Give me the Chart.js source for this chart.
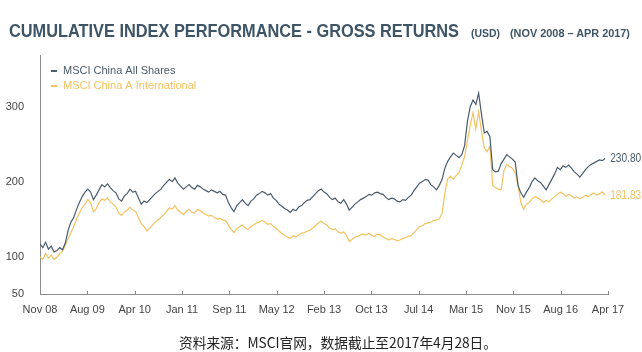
<!DOCTYPE html>
<html>
<head>
<meta charset="utf-8">
<script src="https://cdn.jsdelivr.net/npm/chart.js@4.4.1/dist/chart.umd.min.js"></script>
<style>
  html, body { margin: 0; padding: 0; background: #fff; }
  #wrap { position: relative; width: 642px; height: 352px; overflow: hidden; }
  #chart { position: absolute; left: 0; top: 0; }
  .fit { position: absolute; white-space: nowrap; transform-origin: 0 0; line-height: 1; }
  #title { left: 9px; top: 20px; font: bold 19px "Liberation Sans Narrow", "Liberation Sans", sans-serif; color: #3d5567; }
  #usd { left: 471px; top: 27px; font: bold 11px "Liberation Sans Narrow", "Liberation Sans", sans-serif; color: #3d5567; }
  #period { left: 510px; top: 27px; font: bold 11px "Liberation Sans Narrow", "Liberation Sans", sans-serif; color: #3d5567; }
  #source { left: 179px; top: 332px; font: 14px "Noto Sans CJK SC", sans-serif; color: #222; }
</style>
</head>
<body>
<div id="wrap">
  <canvas id="chart" width="642" height="352"></canvas>
  <div class="fit" id="title" data-w="450">CUMULATIVE INDEX PERFORMANCE - GROSS RETURNS</div>
  <div class="fit" id="usd" data-w="29">(USD)</div>
  <div class="fit" id="period" data-w="120">(NOV 2008 – APR 2017)</div>
  <div class="fit" id="source" data-w="318">资料来源：MSCI官网，数据截止至2017年4月28日。</div>
</div>
<script>
// ---- data (one reading every half month from Nov 08) ----
const tickLabels = ['Nov 08', 'Aug 09', 'Apr 10', 'Jan 11', 'Sep 11', 'May 12', 'Feb 13',
                    'Oct 13', 'Jul 14', 'Mar 15', 'Nov 15', 'Aug 16', 'Apr 17'];
const yTicks      = [50, 100, 200, 300];
const totalMonths = 101;   // Nov 08 -> Apr 17
const stepMonths  = 0.5;

const allShares = [
  117, 112, 119, 110, 114, 106, 108, 112, 109, 118,
  135, 146, 152, 163, 172, 180, 186, 190, 186, 176,
  182, 189, 196, 193, 197, 192, 188, 185, 177, 174,
  181, 184, 190, 186, 187, 178, 170, 174, 172, 176,
  180, 184, 187, 190, 195, 199, 203, 200, 205, 198,
  194, 190, 193, 196, 192, 190, 195, 193, 190, 188,
  186, 189, 187, 185, 187, 183, 182, 172, 165, 160,
  168, 172, 176, 171, 168, 174, 177, 182, 184, 187,
  185, 182, 184, 178, 175, 170, 167, 164, 162, 159,
  163, 161, 166, 168, 172, 175, 176, 180, 184, 188,
  190, 186, 184, 179, 176, 178, 173, 171, 176, 170,
  162, 166, 170, 173, 176, 178, 180, 183, 182, 185,
  186, 184, 183, 179, 176, 178, 177, 174, 173, 176,
  175, 179, 182, 188, 193, 198, 200, 203, 202, 196,
  193, 189, 195, 203, 218, 227, 233, 238, 235, 232,
  236, 248, 280, 300, 309, 303, 318, 290, 265, 267,
  260, 216, 213, 214, 224, 230, 236, 233, 230, 226,
  195, 185, 179, 186, 192, 200, 205, 201, 199, 194,
  189, 196, 203, 210, 219, 216, 221, 219, 222, 218,
  213, 210, 206, 211, 216, 220, 223, 225, 227, 229,
  228, 230.80
];

const chinaA = [
  100, 96, 104, 98, 102, 96, 99, 104, 107, 115,
  124, 132, 140, 150, 158, 165, 170, 176, 172, 160,
  164, 172, 177, 175, 178, 173, 170, 166, 158, 155,
  159, 162, 166, 162, 160, 152, 144, 140, 134, 138,
  142, 146, 149, 152, 156, 160, 165, 163, 168, 162,
  159, 156, 160, 163, 159, 158, 163, 161, 158, 156,
  154, 155, 152, 150, 151, 149, 148, 142, 136, 132,
  137, 140, 142, 138, 136, 140, 142, 145, 146, 148,
  146, 143, 144, 140, 138, 134, 131, 128, 126, 124,
  128, 126, 129, 131, 132, 134, 135, 138, 141, 145,
  147, 144, 142, 138, 136, 137, 133, 131, 133, 128,
  120, 123, 126, 127, 129, 130, 129, 131, 128, 127,
  130, 129, 126, 124, 122, 124, 123, 121, 122, 124,
  125, 127, 128, 132, 136, 140, 141, 144, 145, 146,
  148, 149, 150, 158, 185, 204, 207, 203, 208, 212,
  222, 233, 255, 275, 292, 270, 293, 268, 245, 240,
  247, 195, 192, 190, 189, 215, 223, 220, 218, 212,
  195, 172, 163, 170, 172, 177, 180, 178, 176, 172,
  175, 173, 177, 180, 183, 186, 184, 180, 183, 181,
  178, 180, 177, 179, 182, 180, 183, 185, 182, 184,
  186, 181.83
];

const seriesNames = ['MSCI China All Shares', 'MSCI China A International'];
const endLabels   = ['230.80', '181.83'];

const BLUE   = '#4b5c6c';
const ORANGE = '#f5c262';
const AXIS   = '#8c8c8c';
const FONT   = '"Liberation Sans", Arial, sans-serif';

const toPoints = arr => arr.map((v, i) => ({ x: i * stepMonths, y: v }));

// legend, end values and the small inward ticks on the x axis
const overlay = {
  id: 'overlay',
  afterDraw(chart) {
    const { ctx, chartArea, scales } = chart;
    ctx.save();

    ctx.strokeStyle = AXIS;
    ctx.lineWidth = 1;
    scales.x.ticks.forEach(t => {
      const px = Math.round(scales.x.getPixelForValue(t.value)) + 0.5;
      ctx.beginPath();
      ctx.moveTo(px, chartArea.bottom);
      ctx.lineTo(px, chartArea.bottom - 3);
      ctx.stroke();
    });

    ctx.font = '11px ' + FONT;
    ctx.textBaseline = 'middle';
    [BLUE, ORANGE].forEach((c, i) => {
      const y = 71 + i * 15;
      ctx.fillStyle = c;
      ctx.fillRect(51, y - 1, 6, 2);
      ctx.fillText(seriesNames[i], 63, y);
    });

    // end values, squeezed to the ~31px they take in the picture
    ctx.font = '12px ' + FONT;
    chart.data.datasets.forEach((ds, i) => {
      const pts = chart.getDatasetMeta(i).data;
      const last = pts[pts.length - 1];
      ctx.fillStyle = ds.borderColor;
      ctx.fillText(endLabels[i], last.x + 5, last.y, 31);
    });
    ctx.restore();
  }
};

new Chart(document.getElementById('chart'), {
  type: 'line',
  data: {
    datasets: [
      { label: seriesNames[0], data: toPoints(allShares), borderColor: BLUE,
        borderWidth: 1.2, pointRadius: 0, tension: 0 },
      { label: seriesNames[1], data: toPoints(chinaA), borderColor: ORANGE,
        borderWidth: 1.2, pointRadius: 0, tension: 0 }
    ]
  },
  options: {
    responsive: false,
    animation: false,
    layout: { padding: { top: 55, right: 34, left: 0, bottom: 0 } },
    plugins: { legend: { display: false }, tooltip: { enabled: false } },
    scales: {
      x: {
        type: 'linear', min: 0, max: totalMonths,
        afterBuildTicks: s => {
          s.ticks = tickLabels.map((_, k) => ({ value: k * totalMonths / (tickLabels.length - 1) }));
        },
        afterFit: s => { s.height = 58; },
        ticks: { callback: (v, i) => tickLabels[i], padding: 1, color: '#444',
                 font: { family: FONT, size: 11 }, maxRotation: 0, autoSkip: false },
        grid: { display: false },
        border: { display: true, color: AXIS }
      },
      y: {
        min: 50, max: 369,
        afterBuildTicks: s => { s.ticks = yTicks.map(v => ({ value: v })); },
        afterFit: s => { s.width = 40; },
        ticks: { padding: 8, color: '#444', font: { family: FONT, size: 11 } },
        grid: { display: false },
        border: { display: true, color: AXIS }
      }
    }
  },
  plugins: [overlay]
});

// squeeze the header / source lines to the widths they take in the picture
document.querySelectorAll('.fit').forEach(el => {
  const w = el.getBoundingClientRect().width;
  el.style.transform = 'scaleX(' + (el.dataset.w / w) + ')';
});
</script>
</body>
</html>
